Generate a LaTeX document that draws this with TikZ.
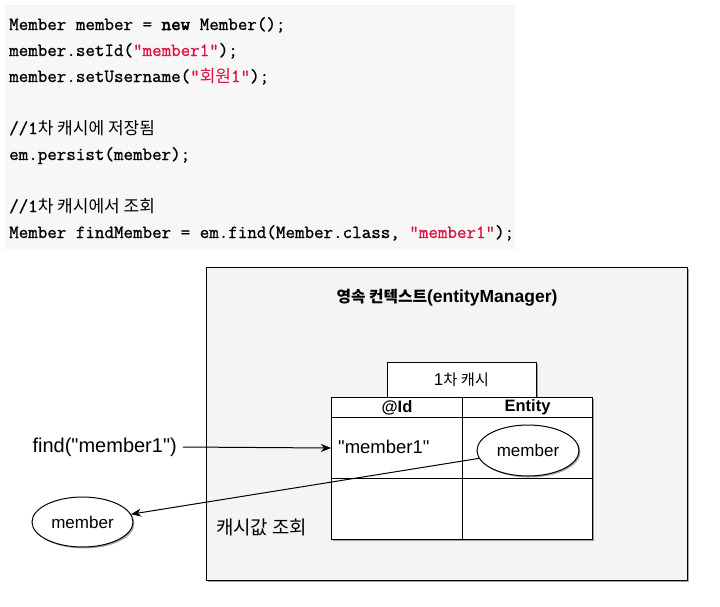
\documentclass[tikz,border=0pt]{standalone}
\usepackage{fontspec}
\setmainfont{Liberation Sans}[Ligatures=TeXOff]
\newfontfamily\krf{Noto Sans CJK KR}[Scale=0.9]
\newfontfamily\krc{Noto Sans CJK KR}[Scale=0.92]
\newfontfamily\cfont{Latin Modern Mono}[FakeBold=1.0]
\newfontfamily\cbold{Latin Modern Mono}[FakeBold=3.0]
\newcommand{\dq}{\char34\relax}
\usetikzlibrary{shadows,arrows.meta,shapes.geometric}
\definecolor{codebg}{HTML}{F7F7F7}
\definecolor{boxbg}{HTML}{F4F4F4}
\definecolor{strred}{HTML}{DD1144}
\begin{document}
\begin{tikzpicture}[x=1pt,y=-1pt,
  codeline/.style={anchor=base west,inner sep=0pt,font=\cfont\fontsize{18.5}{20}\selectfont},
  shad/.style={drop shadow={shadow xshift=1.5pt,shadow yshift=-1.5pt,opacity=0.35,fill=black}},
  cell/.style={draw,fill=white,line width=1pt,inner sep=0pt},
  oval/.style={ellipse,draw,fill=white,line width=1pt,inner sep=0pt,shad,font=\fontsize{17}{20}\selectfont},
  arr/.style={line width=1pt,-{Stealth[length=10pt,width=8pt,inset=3pt]}}
]
\useasboundingbox (0,0) rectangle (720,606);
% code block
\node[fill=codebg,inner sep=0pt,minimum width=510pt,minimum height=245pt,anchor=north west] (codebg) at (5,5) {};
\node[codeline] (c1) at (9,30) {Member member = {\cbold new} Member();};
\node[codeline] (c2) at (9,56) {member.setId({\color{strred}\dq member1\dq});};
\node[codeline] (c3) at (9,82) {member.setUsername({\color{strred}\dq{\krc 회원}1\dq});};
\node[codeline] (c4) at (9,134) {//1{\krc 차 캐시에 저장됨}};
\node[codeline] (c5) at (9,160) {em.persist(member);};
\node[codeline] (c6) at (9,212) {//1{\krc 차 캐시에서 조회}};
\node[codeline] (c7) at (9,238) {Member findMember = em.find(Member.class, {\color{strred}\dq member1\dq});};
% persistence context box
\node[draw,fill=boxbg,line width=1.2pt,minimum width=481pt,minimum height=313pt,inner sep=0pt,anchor=north west,shad] (pc) at (206,267) {};
\node[font=\bfseries\fontsize{17.5}{20}\selectfont,inner sep=0pt] (title) at (447,298) {{\krf\bfseries 영속 컨텍스트}(entityManager)};
% tab
\node[cell,minimum width=149pt,minimum height=35pt,anchor=north west,shad] (tab) at (387,362) {};
\node[font=\fontsize{17}{20}\selectfont,inner sep=0pt] (tabtxt) at (461.5,380) {1{\krf 차 캐시}};
% table
\node[fill=white,minimum width=261pt,minimum height=142pt,inner sep=0pt,anchor=north west,shad] (tblshadow) at (331,397) {};
\node[cell,minimum width=131pt,minimum height=20pt,anchor=north west,font=\bfseries\fontsize{16.5}{18}\selectfont] (h1) at (331,397) {@Id};
\node[cell,minimum width=130pt,minimum height=20pt,anchor=north west,font=\bfseries\fontsize{16.5}{18}\selectfont] (h2) at (462,397) {Entity};
\node[cell,minimum width=131pt,minimum height=61pt,anchor=north west] (r1c1) at (331,417) {};
\node[cell,minimum width=130pt,minimum height=61pt,anchor=north west] (r1c2) at (462,417) {};
\node[cell,minimum width=131pt,minimum height=61pt,anchor=north west] (r2c1) at (331,478) {};
\node[cell,minimum width=130pt,minimum height=61pt,anchor=north west] (r2c2) at (462,478) {};
\node[font=\fontsize{18.5}{20}\selectfont,inner sep=0pt,anchor=west] (idval) at (338,447) {\dq member1\dq};
\node[oval,minimum width=102pt,minimum height=51pt] (mem2) at (528,450.5) {member};
\node[font=\fontsize{21}{24}\selectfont,inner sep=0pt,anchor=west] (lookup) at (216,527) {\krf 캐시값 조회};
% outside
\node[font=\fontsize{20}{24}\selectfont,inner sep=0pt,anchor=east] (find) at (177,447) {find(\dq member1\dq)};
\node[oval,minimum width=101pt,minimum height=50pt] (mem1) at (82.5,522) {member};
% arrows
\draw[arr] ([xshift=6pt]find.east) -- (r1c1.west);
\draw[arr] (mem2) -- (mem1);
\end{tikzpicture}
\end{document}
